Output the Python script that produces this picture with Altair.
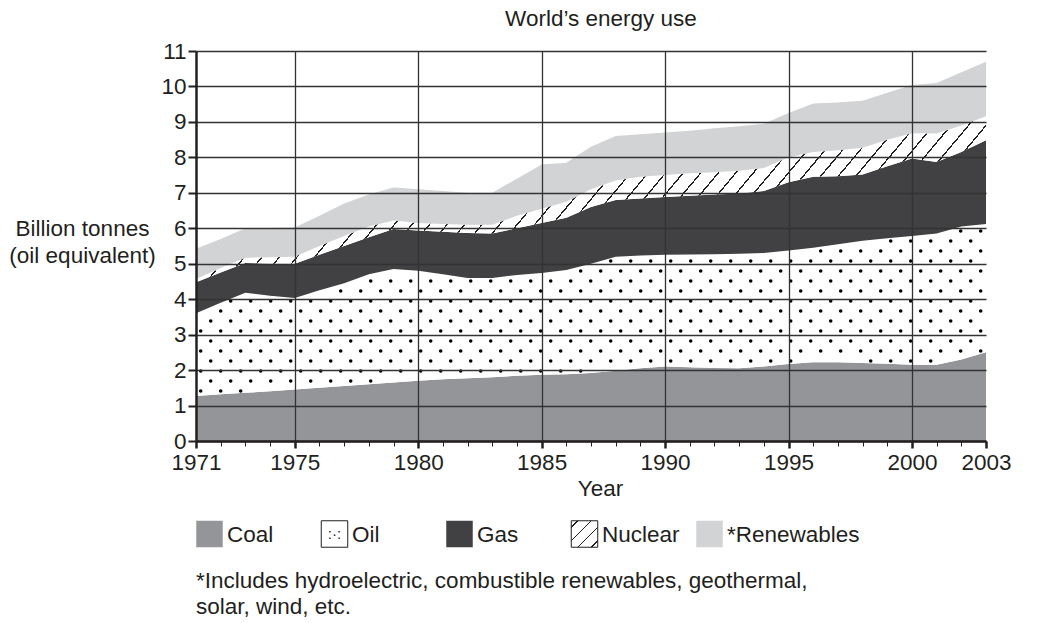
import math
import altair as alt
import numpy as np
import pandas as pd

# ---------------- data (billion tonnes oil equivalent) ----
years = list(range(1971, 2004))
coal = [1.27, 1.32, 1.36, 1.40, 1.45, 1.50, 1.55, 1.60, 1.65, 1.70, 1.74, 1.77, 1.80,
        1.84, 1.87, 1.88, 1.92, 1.98, 2.05, 2.10, 2.08, 2.06, 2.05, 2.10, 2.17, 2.22,
        2.22, 2.20, 2.18, 2.15, 2.15, 2.30, 2.50]
oil = [2.33, 2.58, 2.82, 2.70, 2.58, 2.75, 2.90, 3.10, 3.20, 3.10, 2.96, 2.83, 2.80,
       2.84, 2.87, 2.94, 3.08, 3.22, 3.18, 3.15, 3.18, 3.21, 3.23, 3.20, 3.20, 3.23,
       3.33, 3.45, 3.54, 3.63, 3.70, 3.75, 3.62]
gas = [0.88, 0.85, 0.84, 0.90, 0.97, 1.00, 1.05, 1.05, 1.13, 1.14, 1.20, 1.27, 1.25,
       1.32, 1.41, 1.48, 1.60, 1.60, 1.61, 1.63, 1.66, 1.68, 1.70, 1.75, 1.93, 2.00,
       1.92, 1.87, 2.03, 2.19, 2.02, 2.10, 2.36]
nuclear = [0.09, 0.13, 0.15, 0.18, 0.20, 0.25, 0.28, 0.30, 0.24, 0.21, 0.22, 0.23, 0.25,
           0.35, 0.40, 0.45, 0.50, 0.55, 0.61, 0.62, 0.63, 0.63, 0.64, 0.65, 0.70, 0.70,
           0.73, 0.75, 0.75, 0.71, 0.80, 0.75, 0.68]
renewables = [0.85, 0.82, 0.83, 0.83, 0.82, 0.85, 0.92, 0.90, 0.93, 0.95, 0.93, 0.90, 0.90,
              1.05, 1.25, 1.10, 1.20, 1.25, 1.20, 1.20, 1.20, 1.24, 1.26, 1.25, 1.25, 1.37,
              1.35, 1.33, 1.32, 1.36, 1.43, 1.50, 1.54]

sources = ["Coal", "Oil", "Gas", "Nuclear", "*Renewables"]
major_ticks = [1971, 1975, 1980, 1985, 1990, 1995, 2000, 2003]
grid_years = [1975, 1980, 1985, 1990, 1995, 2000]
y_ticks = list(range(0, 12))
title_text = "World\u2019s energy use"
y_title = ["Billion tonnes", "(oil equivalent)"]
x_title = "Year"
footnote = ["*Includes hydroelectric, combustible renewables, geothermal,",
            "solar, wind, etc."]

series = [coal, oil, gas, nuclear, renewables]

# ---------------- styling ----------------
W, H = 790, 390
X0, X1 = 1971, 2003
Y0, Y1 = 0, 11
FONT = "Liberation Sans"
FS = 22.5
INK = "#231f20"
COAL_C = "#939598"
GAS_C = "#414042"
REN_C = "#d1d3d4"
GRID_C = "#333333"

rows = []
for k, (name, vals) in enumerate(zip(sources, series)):
    for yr, v in zip(years, vals):
        rows.append({"year": yr, "source": name, "value": v, "order": k})
long_df = pd.DataFrame(rows)


def hatch(width_px, height_px, angle_deg, spacing_px, line_px, color=INK, bg="#ffffff"):
    """Linear gradient (bbox units) that renders as diagonal hatch lines."""
    th = math.radians(angle_deg)
    s, c = math.sin(th), math.cos(th)
    a = (s / height_px + c / width_px) / (s * s / height_px ** 2 + c * c / width_px ** 2)
    gx, gy = a * s / height_px, a * c / width_px
    L = width_px * s + height_px * c
    n = max(1, int(round(L / spacing_px)))
    hw = line_px / 2.0 / L
    stops = [{"offset": 0, "color": bg}]
    for i in range(n):
        ctr = (i + 0.5) / n
        stops += [{"offset": ctr - hw, "color": bg}, {"offset": ctr - hw, "color": color},
                  {"offset": ctr + hw, "color": color}, {"offset": ctr + hw, "color": bg}]
    stops.append({"offset": 1, "color": bg})
    return {"gradient": "linear", "x1": 0, "y1": 0, "x2": gx, "y2": gy, "stops": stops}


px_year = W / (X1 - X0)
px_unit = H / (Y1 - Y0)
cum = np.cumsum(np.array(series), axis=0)

# dotted texture for the oil band (pattern lattice, masked to the band)
dot_rows = []
margin = 1.8 / px_unit
for k in range(0, 60):
    v = 10 * k / px_unit
    xp = 4.7 if k % 2 == 1 else 14.7
    while xp <= W:
        yr = X0 + xp / px_year
        lo = np.interp(yr, years, cum[0]) + margin
        hi = np.interp(yr, years, cum[1]) - margin
        if lo < v < hi:
            dot_rows.append({"x": yr, "y": v})
        xp += 20
dots_df = pd.DataFrame(dot_rows)

nuc_h = (cum[3].max() - cum[2].min()) * px_unit
nuc_fill = hatch(W, nuc_h, 50, 13.4, 1.3)
leg_hatch = hatch(26.5, 26.5, 45, 9.4, 1.2)

# ---------------- scales & axes ----------------
xscale = alt.Scale(domain=[X0, X1], nice=False, zero=False)
yscale = alt.Scale(domain=[Y0, Y1], nice=False, zero=True)

yaxis = alt.Axis(values=y_ticks, format="d", grid=True, gridColor=GRID_C, gridWidth=1.3,
                 tickSize=8, tickWidth=2, tickColor=INK, domainColor=INK, domainWidth=2.5,
                 labelFontSize=FS, labelColor=INK, labelPadding=2, labelOverlap=False,
                 title=y_title, titleAngle=0, titleAlign="center", titleBaseline="alphabetic",
                 titleX=-114, titleY=184, titleFontSize=FS, titleFontWeight="normal",
                 titleColor=INK, titleLineHeight=27, zindex=1)

x_main = alt.Axis(values=major_ticks, format="d", orient="bottom", grid=False, tickSize=7,
                  tickWidth=2.5, tickColor=INK, domainColor=INK, domainWidth=2.5,
                  labelFontSize=FS, labelColor=INK, labelPadding=3, labelFlush=False,
                  labelOverlap=False, title=x_title, titleFontSize=FS,
                  titleFontWeight="normal", titleColor=INK, titlePadding=4, titleX=404,
                  zindex=1)
x_minor = alt.Axis(values=years, orient="bottom", grid=False, tickSize=5, tickWidth=1,
                   tickColor=INK, labels=False, domain=False, title=None, zindex=1)
x_grid = alt.Axis(values=grid_years, orient="bottom", grid=True, gridColor=GRID_C,
                  gridWidth=1.3, ticks=False, labels=False, domain=False, title=None,
                  zindex=1)

stacked = alt.Chart(long_df).transform_stack(
    stack="value", groupby=["year"], sort=[alt.SortField("order", order="ascending")],
    as_=["lo", "hi"])


def band(name, xaxis, **mark):
    return stacked.transform_filter(alt.datum.source == name).mark_area(
        interpolate="linear", opacity=1, **mark).encode(
        x=alt.X("year:Q", scale=xscale, axis=xaxis),
        y=alt.Y("hi:Q", scale=yscale, axis=yaxis),
        y2="lo:Q")


coal_l = band("Coal", x_main, fill=COAL_C)
oil_l = band("Oil", None, fill="#ffffff")
gas_l = band("Gas", None, fill=GAS_C)
nuc_l = band("Nuclear", None, fill=nuc_fill)
ren_l = band("*Renewables", x_grid, fill=REN_C)

dots_l = alt.Chart(dots_df).mark_circle(size=13, color="#000000", opacity=1).encode(
    x=alt.X("x:Q", scale=xscale, axis=x_minor),
    y=alt.Y("y:Q", scale=yscale, axis=yaxis))

main = alt.layer(coal_l, oil_l, gas_l, nuc_l, ren_l, dots_l).resolve_axis(
    x="independent").properties(
    width=W, height=H,
    title=alt.TitleParams(title_text, fontSize=FS, fontWeight="normal", color=INK,
                          offset=9.5, dx=10, anchor="middle"))

# ---------------- legend ----------------
leg_df = pd.DataFrame({"name": sources})
lx = alt.X("name:N", sort=sources,
           scale=alt.Scale(type="point", domain=sources, range=[13.5, 513.5], padding=0),
           axis=None)


def swatch(name, **mark):
    return alt.Chart(leg_df).transform_filter(alt.datum.name == name).mark_square(
        size=702, opacity=1, **mark).encode(x=lx)


sw = [
    swatch("Coal", fill=COAL_C, strokeWidth=0),
    swatch("Oil", fill="#ffffff", stroke=INK, strokeWidth=1),
    swatch("Gas", fill=GAS_C, strokeWidth=0),
    swatch("Nuclear", fill=leg_hatch, stroke=INK, strokeWidth=1),
    swatch("*Renewables", fill=REN_C, strokeWidth=0),
]
oil_dots = alt.Chart(leg_df).transform_filter(alt.datum.name == "Oil").mark_text(
    text=":\u00b7:", fontSize=15, color=INK, align="center", baseline="middle").encode(x=lx)
labels = alt.Chart(leg_df).mark_text(align="left", baseline="alphabetic", dx=17.5, dy=8,
                                     fontSize=FS, color=INK).encode(x=lx, text="name:N")

legend = alt.layer(*sw, oil_dots, labels).properties(
    width=W, height=26,
    title=alt.TitleParams(footnote, orient="bottom", anchor="start", frame="group",
                          offset=21, fontSize=FS, fontWeight="normal", color=INK,
                          lineHeight=25.5))

chart = alt.vconcat(main, legend, spacing=18).configure(
    font=FONT, background="#ffffff").configure_view(stroke=None).properties(padding=0)

chart.save("out.html", embed_options={"renderer": "svg", "actions": False})
